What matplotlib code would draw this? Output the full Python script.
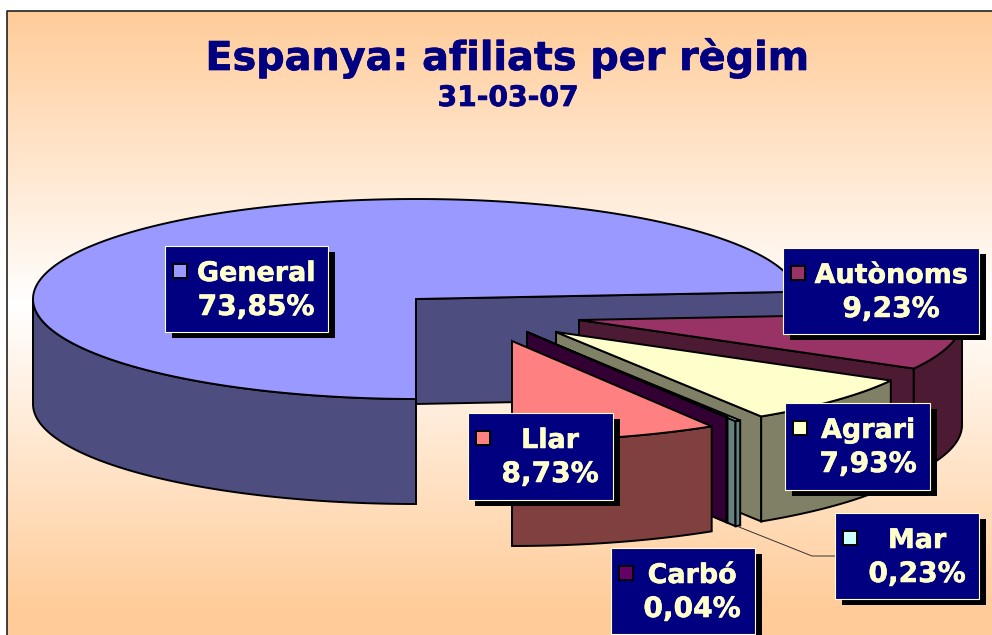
import numpy as np
import matplotlib
matplotlib.use('Agg')
import matplotlib.pyplot as plt
import matplotlib.patheffects as pe
from matplotlib.colors import LinearSegmentedColormap
from matplotlib.patches import Rectangle, Polygon

title = 'Espanya: afiliats per règim'
subtitle = '31-03-07'

# counter-clockwise from the bottom of the pie
names = ['Llar', 'Carbó', 'Mar', 'Agrari', 'Autònoms', 'General']
values = [8.73, 0.04, 0.23, 7.93, 9.23, 73.85]

top_colors = ['#FF8080', '#660066', '#CCFFFF', '#FFFFCC', '#993366', '#9999FF']
wall_colors = ['#804040', '#330033', '#668080', '#808066', '#4D1A33', '#4D4D80']

# exploded centre of each slice, in pixels
centres = {'Llar': (512, 341), 'Carbó': (527, 332), 'Mar': (535, 336),
           'Agrari': (556, 332), 'Autònoms': (579, 320), 'General': (416, 299)}
# label box (left, top, right, bottom) and text centre
boxes = {'Llar': (468, 413, 613, 500, 550), 'Carbó': (611, 548, 755, 634, 692),
         'Mar': (835, 513, 979, 599, 917), 'Agrari': (785, 403, 930, 490, 868),
         'Autònoms': (783, 248, 979, 334, 891), 'General': (165, 246, 328, 332, 256)}

RX, RY, DEPTH = 383, 100, 105
LINE = '#000000'
LW = 1.4


def arc(cx, cy, a0, a1):
    t = np.radians(np.linspace(a0, a1, 200))
    return np.column_stack([cx + RX*np.cos(t), cy - RY*np.sin(t)])


def draw_slice(ax, name, a0, a1, top, wall):
    cx, cy = centres[name]
    centre = np.array([[cx, cy]])
    down = np.array([0, DEPTH])
    # radial wall on the start side, then the front of the rim
    p0 = arc(cx, cy, a0, a0)[:1]
    ax.add_patch(Polygon(np.vstack([centre, p0, p0 + down, centre + down]),
                         fc=wall, ec=LINE, lw=LW))
    # General wraps past 360, its visible rim runs from the left to the bottom
    lo, hi = (180, a1) if name == 'General' else (max(a0, 180), min(a1, 360))
    if lo < hi:
        rim = arc(cx, cy, lo, hi)
        ax.add_patch(Polygon(np.vstack([rim, (rim + down)[::-1]]),
                             fc=wall, ec=LINE, lw=LW))
    ax.add_patch(Polygon(np.vstack([centre, arc(cx, cy, a0, a1)]),
                         fc=top, ec=LINE, lw=LW))


fig = plt.figure(figsize=(9.92, 6.35), dpi=100)
ax = fig.add_axes([0, 0, 1, 1])

cmap = LinearSegmentedColormap.from_list(
    'bg', [(0, '#FFCC99'), (0.47, '#FFFFFF'), (0.96, '#FFCC99'), (1, '#FFCC99')])
grad = np.linspace(0, 1, 256).reshape(-1, 1)
ax.imshow(grad, cmap=cmap, extent=(7, 992, 635, 11), aspect='auto', zorder=0)
ax.set_xlim(0, 992)
ax.set_ylim(635, 0)
ax.axis('off')
ax.plot([7, 7, 992], [635, 11, 11], color='#222222', lw=1.2, zorder=1)

bold = [pe.withStroke(linewidth=0.5, foreground='#000080')]
ax.text(508, 70, title, color='#000080', fontsize=28.6, fontweight='bold',
        ha='center', va='baseline', path_effects=bold)
ax.text(508, 106, subtitle, color='#000080', fontsize=20.3, fontweight='bold',
        ha='center', va='baseline', path_effects=bold)

# slice angles from the values, General comes out as 4.3 to 270 plus a turn
total = sum(values)
angles = {}
a = 270.0
for name, v in zip(names, values):
    a1 = a + v/total*360
    angles[name] = (a - 360, a1 - 360) if name == 'General' else (a, a1)
    a = a1
# back to positive angles for General
angles['General'] = (angles['General'][0] % 360, angles['General'][0] % 360 + values[-1]/total*360)

tops = dict(zip(names, top_colors))
walls = dict(zip(names, wall_colors))

for name in ['General', 'Autònoms', 'Agrari', 'Mar', 'Carbó', 'Llar']:
    draw_slice(ax, name, *angles[name], tops[name], walls[name])

# leader line for Mar
ax.plot([739, 812, 835], [527, 556, 556], color='#333333', lw=0.7, zorder=3)

label_bold = [pe.withStroke(linewidth=0.4, foreground='#FFFFCC')]
for name, v in zip(names, values):
    x0, y0, x1, y1, tx = boxes[name]
    ax.add_patch(Rectangle((x0 + 7, y0 + 6), x1 - x0, y1 - y0, fc='black', ec='none', zorder=4))
    ax.add_patch(Rectangle((x0, y0), x1 - x0, y1 - y0, fc='#000080', ec='#FFFFCC', lw=0.8, zorder=5))
    ax.add_patch(Rectangle((x0 + 8, y0 + 18), 14, 14, fc=tops[name], ec='black', lw=1.4, zorder=6))
    ax.text(tx, y0 + 35, name, color='#FFFFCC', fontsize=19.4, fontweight='bold',
            ha='center', va='baseline', zorder=6, path_effects=label_bold)
    ax.text(tx, y0 + 69, f'{v:.2f}%'.replace('.', ','), color='#FFFFCC', fontsize=20.2,
            fontweight='bold', ha='center', va='baseline', zorder=6, path_effects=label_bold)

fig.savefig('out.png', dpi=100)
